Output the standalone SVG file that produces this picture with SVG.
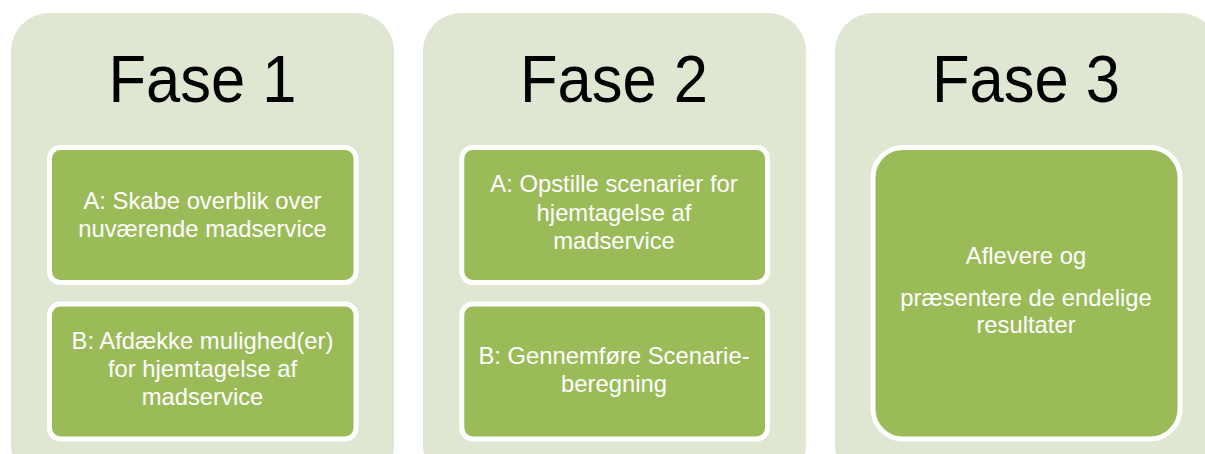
<svg xmlns="http://www.w3.org/2000/svg" width="1205" height="454" viewBox="0 0 1205 454">
<style>
.panel{fill:#DFE7D3;}
.box{fill:#9BBB59;stroke:#FFFFFF;stroke-width:5;}
.head{font-family:"Liberation Sans",Arial,sans-serif;font-size:66px;fill:#000000;text-anchor:middle;}
.lbl{font-family:"Liberation Sans",Arial,sans-serif;font-size:23.8px;fill:#FFFFFF;text-anchor:middle;}
</style>
<rect width="1205" height="454" fill="#FFFFFF"/>
<g id="fase1">
<rect class="panel" x="11" y="13" width="383" height="470" rx="38"/>
<text class="head" x="202.5" y="101.5" textLength="188" lengthAdjust="spacingAndGlyphs">Fase 1</text>
</g>
<g id="fase1-a">
<rect class="box" x="49.5" y="147.5" width="306.5" height="135" rx="11"/>
<text class="lbl" x="202.5" y="209.3">A: Skabe overblik over</text>
<text class="lbl" x="202.5" y="236.9">nuværende madservice</text>
</g>
<g id="fase1-b">
<rect class="box" x="49.5" y="304" width="306.5" height="135" rx="11"/>
<text class="lbl" x="202.5" y="349.3">B: Afdække mulighed(er)</text>
<text class="lbl" x="202.5" y="377.3">for hjemtagelse af</text>
<text class="lbl" x="202.5" y="405">madservice</text>
</g>
<g id="fase2">
<rect class="panel" x="423" y="13" width="383" height="470" rx="38"/>
<text class="head" x="614" y="101.5" textLength="188" lengthAdjust="spacingAndGlyphs">Fase 2</text>
</g>
<g id="fase2-a">
<rect class="box" x="461.8" y="147.5" width="305.7" height="135" rx="11"/>
<text class="lbl" x="614" y="192.3">A: Opstille scenarier for</text>
<text class="lbl" x="614" y="221">hjemtagelse af</text>
<text class="lbl" x="614" y="249">madservice</text>
</g>
<g id="fase2-b">
<rect class="box" x="461.8" y="304" width="305.7" height="135" rx="11"/>
<text class="lbl" x="614" y="364.3">B: Gennemføre Scenarie-</text>
<text class="lbl" x="614" y="392.3">beregning</text>
</g>
<g id="fase3">
<rect class="panel" x="835" y="13" width="383" height="470" rx="38"/>
<text class="head" x="1026" y="101.5" textLength="188" lengthAdjust="spacingAndGlyphs">Fase 3</text>
</g>
<g id="fase3-a">
<rect class="box" x="873" y="147.5" width="307" height="291.5" rx="30"/>
<text class="lbl" x="1026" y="264.3">Aflevere og</text>
<text class="lbl" x="1026" y="305.7">præsentere de endelige</text>
<text class="lbl" x="1026" y="333.3">resultater</text>
</g>
<g id="connectors"></g>
</svg>
